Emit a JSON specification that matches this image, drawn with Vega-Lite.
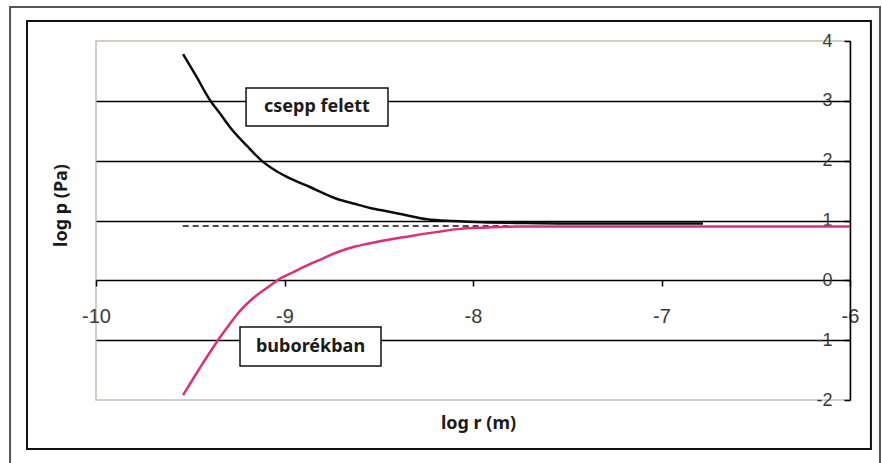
{
  "$schema": "https://vega.github.io/schema/vega-lite/v6.json",
  "width": 754,
  "height": 359,
  "autosize": {"type": "none"},
  "padding": {"left": 96, "top": 41, "right": 32, "bottom": 63},
  "background": "white",
  "config": {
    "view": {"stroke": "#c9beb3", "strokeWidth": 1.5},
    "font": "Liberation Sans"
  },
  "datasets": {
    "curves": [
      {"series": "csepp felett", "logr": -9.538, "logp": 3.78},
      {"series": "csepp felett", "logr": -9.47, "logp": 3.42},
      {"series": "csepp felett", "logr": -9.395, "logp": 3.01},
      {"series": "csepp felett", "logr": -9.34, "logp": 2.78},
      {"series": "csepp felett", "logr": -9.289, "logp": 2.56},
      {"series": "csepp felett", "logr": -9.2, "logp": 2.25},
      {"series": "csepp felett", "logr": -9.114, "logp": 1.98},
      {"series": "csepp felett", "logr": -9.05, "logp": 1.84},
      {"series": "csepp felett", "logr": -8.987, "logp": 1.73},
      {"series": "csepp felett", "logr": -8.865, "logp": 1.56},
      {"series": "csepp felett", "logr": -8.72, "logp": 1.36},
      {"series": "csepp felett", "logr": -8.63, "logp": 1.28},
      {"series": "csepp felett", "logr": -8.546, "logp": 1.21},
      {"series": "csepp felett", "logr": -8.45, "logp": 1.15},
      {"series": "csepp felett", "logr": -8.371, "logp": 1.1},
      {"series": "csepp felett", "logr": -8.244, "logp": 1.02},
      {"series": "csepp felett", "logr": -8.1, "logp": 0.99},
      {"series": "csepp felett", "logr": -7.95, "logp": 0.97},
      {"series": "csepp felett", "logr": -7.77, "logp": 0.96},
      {"series": "csepp felett", "logr": -7.5, "logp": 0.95},
      {"series": "csepp felett", "logr": -7.2, "logp": 0.95},
      {"series": "csepp felett", "logr": -6.78, "logp": 0.95},
      {"series": "buborékban", "logr": -9.538, "logp": -1.92},
      {"series": "buborékban", "logr": -9.48, "logp": -1.62},
      {"series": "buborékban", "logr": -9.432, "logp": -1.38},
      {"series": "buborékban", "logr": -9.353, "logp": -1.0},
      {"series": "buborékban", "logr": -9.3, "logp": -0.77},
      {"series": "buborékban", "logr": -9.252, "logp": -0.57},
      {"series": "buborékban", "logr": -9.167, "logp": -0.3},
      {"series": "buborékban", "logr": -9.077, "logp": -0.09},
      {"series": "buborékban", "logr": -9.024, "logp": 0.03},
      {"series": "buborékban", "logr": -8.95, "logp": 0.14},
      {"series": "buborékban", "logr": -8.9, "logp": 0.22},
      {"series": "buborékban", "logr": -8.8, "logp": 0.36},
      {"series": "buborékban", "logr": -8.72, "logp": 0.47},
      {"series": "buborékban", "logr": -8.63, "logp": 0.56},
      {"series": "buborékban", "logr": -8.546, "logp": 0.62},
      {"series": "buborékban", "logr": -8.45, "logp": 0.68},
      {"series": "buborékban", "logr": -8.371, "logp": 0.72},
      {"series": "buborékban", "logr": -8.19, "logp": 0.81},
      {"series": "buborékban", "logr": -8.069, "logp": 0.86},
      {"series": "buborékban", "logr": -7.95, "logp": 0.88},
      {"series": "buborékban", "logr": -7.857, "logp": 0.89},
      {"series": "buborékban", "logr": -7.77, "logp": 0.9},
      {"series": "buborékban", "logr": -7.5, "logp": 0.9},
      {"series": "buborékban", "logr": -7.0, "logp": 0.9},
      {"series": "buborékban", "logr": -6.5, "logp": 0.9},
      {"series": "buborékban", "logr": -6.0, "logp": 0.9}
    ],
    "reference": [
      {"logr": -9.54, "logp": 0.91},
      {"logr": -7.79, "logp": 0.91}
    ],
    "labels": [
      {"label": "csepp felett", "x1": -9.204, "x2": -8.451, "y1": 3.214, "y2": 2.579, "xc": -8.828, "yc": 2.897},
      {"label": "buborékban", "x1": -9.236, "x2": -8.488, "y1": -0.78, "y2": -1.43, "xc": -8.862, "yc": -1.106}
    ]
  },
  "layer": [
    {
      "data": {"values": [{}]},
      "mark": {"type": "rect", "fill": null, "stroke": "#555555", "strokeWidth": 2},
      "encoding": {
        "x": {"datum": -10.456, "type": "quantitative", "scale": {"domain": [-10, -6], "nice": false, "zero": false}},
        "x2": {"datum": -5.841},
        "y": {"datum": 4.568, "type": "quantitative", "scale": {"domain": [-2, 4], "nice": false, "zero": false}},
        "y2": {"datum": -3.3}
      }
    },
    {
      "data": {"values": [{}]},
      "mark": {"type": "rect", "fill": null, "stroke": "#111111", "strokeWidth": 2},
      "encoding": {
        "x": {"datum": -10.366, "type": "quantitative", "scale": {"domain": [-10, -6], "nice": false, "zero": false}},
        "x2": {"datum": -5.889},
        "y": {"datum": 4.334, "type": "quantitative", "scale": {"domain": [-2, 4], "nice": false, "zero": false}},
        "y2": {"datum": -2.819}
      }
    },
    {
      "data": {"name": "reference"},
      "mark": {"type": "line", "color": "#111111", "strokeWidth": 1.5, "strokeDash": [6, 4]},
      "encoding": {
        "x": {"field": "logr", "type": "quantitative", "scale": {"domain": [-10, -6], "nice": false, "zero": false},
          "axis": {
            "orient": "bottom", "offset": -120, "values": [-10, -9, -8, -7, -6],
            "labelExpr": "'' + datum.value",
            "domain": false, "grid": false,
            "tickColor": "#000000", "tickSize": 6, "tickWidth": 1.5,
            "labelFont": "Liberation Sans", "labelFontSize": 20, "labelColor": "#3a3a3a",
            "labelPadding": 20, "labelFlush": false, "labelOverlap": false,
            "title": "log r (m)", "titleX": 382, "titleY": 148, "titleAlign": "center",
            "titleBaseline": "alphabetic", "titleFont": "Noto Sans", "titleFontWeight": "bold",
            "titleFontSize": 18, "titleColor": "#1a1a1a"
          }
        },
        "y": {"field": "logp", "type": "quantitative", "scale": {"domain": [-2, 4], "nice": false, "zero": false},
          "axis": {
            "orient": "right", "values": [-2, -1, 0, 1, 2, 3, 4],
            "labelExpr": "'' + datum.value",
            "domainColor": "#000000", "domainWidth": 1.5,
            "tickColor": "#000000", "tickSize": -6, "tickWidth": 1.5,
            "labelAlign": "right", "labelBaseline": "middle", "labelPadding": -12,
            "labelFont": "Liberation Sans", "labelFontSize": 18, "labelColor": "#3a3a3a",
            "labelFlush": false, "labelOverlap": false,
            "grid": true,
            "gridColor": {"condition": {"test": "datum.value == 4 || datum.value == -2", "value": "rgba(0,0,0,0)"}, "value": "#000000"},
            "gridWidth": 1.5,
            "title": "log p (Pa)", "titleX": -784, "titleY": 164, "titleAngle": -90,
            "titleAlign": "center", "titleBaseline": "alphabetic",
            "titleFont": "Noto Sans", "titleFontWeight": "bold", "titleFontSize": 18, "titleColor": "#1a1a1a"
          }
        }
      }
    },
    {
      "data": {"name": "curves"},
      "mark": {"type": "line", "strokeWidth": 2.5, "interpolate": "monotone"},
      "encoding": {
        "x": {"field": "logr", "type": "quantitative", "scale": {"domain": [-10, -6], "nice": false, "zero": false}},
        "y": {"field": "logp", "type": "quantitative", "scale": {"domain": [-2, 4], "nice": false, "zero": false}},
        "color": {"field": "series", "type": "nominal",
          "scale": {"domain": ["buborékban", "csepp felett"], "range": ["#dc2f78", "#0d0d0d"]},
          "legend": null},
        "detail": {"field": "series"}
      }
    },
    {
      "data": {"name": "labels"},
      "mark": {"type": "rect", "fill": "white", "stroke": "#111111", "strokeWidth": 1.5},
      "encoding": {
        "x": {"field": "x1", "type": "quantitative", "scale": {"domain": [-10, -6], "nice": false, "zero": false}},
        "x2": {"field": "x2"},
        "y": {"field": "y1", "type": "quantitative", "scale": {"domain": [-2, 4], "nice": false, "zero": false}},
        "y2": {"field": "y2"}
      }
    },
    {
      "data": {"name": "labels"},
      "mark": {"type": "text", "font": "Noto Sans", "fontWeight": "bold", "fontSize": 18, "color": "#1a1a1a", "align": "center", "baseline": "middle"},
      "encoding": {
        "x": {"field": "xc", "type": "quantitative", "scale": {"domain": [-10, -6], "nice": false, "zero": false}},
        "y": {"field": "yc", "type": "quantitative", "scale": {"domain": [-2, 4], "nice": false, "zero": false}},
        "text": {"field": "label"}
      }
    }
  ]
}
